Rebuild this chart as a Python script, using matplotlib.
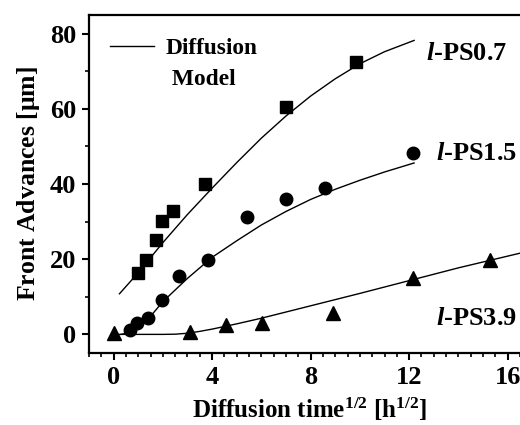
import matplotlib
matplotlib.use("Agg")
import matplotlib.pyplot as plt
from matplotlib.lines import Line2D
from matplotlib.ticker import MultipleLocator

# ===================================================================
# Data
# ===================================================================
# l-PS0.7 (squares)
ps07_t = [0.99, 1.30, 1.71, 1.96, 2.41, 3.73, 7.02, 9.84]
ps07_d = [16.4, 19.9, 25.0, 30.2, 32.7, 39.9, 60.5, 72.5]
ps07_fit_t = [0.24, 1, 2, 3, 4, 5, 6, 7, 8, 9, 10, 11, 12.2]
ps07_fit_d = [10.8, 16.4, 24.4, 31.9, 38.9, 45.7, 52.2, 58.1, 63.4, 68.0, 72.0, 75.2, 78.2]

# l-PS1.5 (circles)
ps15_t = [0.68, 0.95, 1.40, 1.96, 2.64, 3.83, 5.43, 7.02, 8.60, 12.17]
ps15_d = [1.1, 2.9, 4.3, 9.2, 15.6, 19.9, 31.1, 35.9, 39.0, 48.2]
ps15_fit_t = [0.3, 0.6, 1, 1.5, 2, 3, 4, 5, 6, 7, 8, 9, 10, 11, 12.2]
ps15_fit_d = [0, 0.4, 1.8, 4.8, 8.7, 14.9, 20.5, 24.9, 29.1, 32.7, 35.9, 38.6, 41.0, 43.2, 45.6]

# l-PS3.9 (triangles)
ps39_t = [0, 3.12, 4.55, 6.04, 8.89, 12.14, 15.28]
ps39_d = [0.3, 0.6, 2.6, 2.9, 5.8, 14.9, 19.7]
ps39_fit_t = [0, 1, 2, 2.5, 3, 3.5, 4, 5, 6, 8, 10, 12, 14, 16.5]
ps39_fit_d = [0, 0, 0, 0.05, 0.3, 0.8, 1.4, 2.8, 4.3, 7.6, 10.9, 14.3, 17.7, 21.6]

# ===================================================================
# Style
# ===================================================================
plt.rcParams["font.family"] = ["Liberation Serif", "DejaVu Serif"]
plt.rcParams["font.weight"] = "bold"
plt.rcParams["axes.labelweight"] = "bold"
plt.rcParams["mathtext.fontset"] = "custom"
plt.rcParams["mathtext.rm"] = "Liberation Serif:bold"
plt.rcParams["mathtext.it"] = "Liberation Serif:italic"
plt.rcParams["mathtext.bf"] = "Liberation Serif:bold"

fig = plt.figure(figsize=(5.2, 4.25), dpi=100)
ax = fig.add_axes([0.171, 0.169, 0.829, 0.796])

mk = dict(color="black", linestyle="none")
ax.plot(ps07_t, ps07_d, marker="s", markersize=8.5, **mk)
ax.plot(ps15_t, ps15_d, marker="o", markersize=9, **mk)
ax.plot(ps39_t, ps39_d, marker="^", markersize=10, **mk)

fit_line, = ax.plot(ps07_fit_t, ps07_fit_d, color="black", lw=1.0)
ax.plot(ps15_fit_t, ps15_fit_d, color="black", lw=1.0)
ax.plot(ps39_fit_t, ps39_fit_d, color="black", lw=1.0)

ax.text(12.7, 74.6, r"$\mathit{l}$-PS0.7", fontsize=19, va="center")
ax.text(13.1, 48.0, r"$\mathit{l}$-PS1.5", fontsize=19, va="center")
ax.text(13.1, 4.3, r"$\mathit{l}$-PS3.9", fontsize=19, va="center")

# legend: line next to "Diffusion", "Model" on the second row with no handle
blank = Line2D([], [], linestyle="none")
leg = ax.legend([fit_line, blank], ["Diffusion", " Model"], loc="upper left",
                bbox_to_anchor=(0.049, 0.933), frameon=False,
                fontsize=16.8, handlelength=1.9, borderaxespad=0, borderpad=0,
                handletextpad=0.5, labelspacing=0.4)

ax.set_xlim(-1, 16.5)
ax.set_ylim(-5, 85)
ax.xaxis.set_major_locator(MultipleLocator(4))
ax.xaxis.set_minor_locator(MultipleLocator(0.5))
ax.yaxis.set_major_locator(MultipleLocator(20))
ax.yaxis.set_minor_locator(MultipleLocator(10))
ax.tick_params(which="major", direction="out", length=5, width=1.5, labelsize=19, pad=4)
ax.tick_params(which="minor", direction="out", length=3, width=1.2)

for s in ["left", "bottom", "top"]:
    ax.spines[s].set_linewidth(1.6)
ax.spines["right"].set_visible(False)

ax.set_xlabel(r"Diffusion time$^{\mathbf{1/2}}$ [h$^{\mathbf{1/2}}$]", fontsize=18)
ax.xaxis.set_label_coords(0.512, -0.125)
ax.set_ylabel(r"Front Advances [$\mathbf{\mu}$m]", fontsize=18.5, labelpad=6)

fig.savefig("out.png", dpi=100)
